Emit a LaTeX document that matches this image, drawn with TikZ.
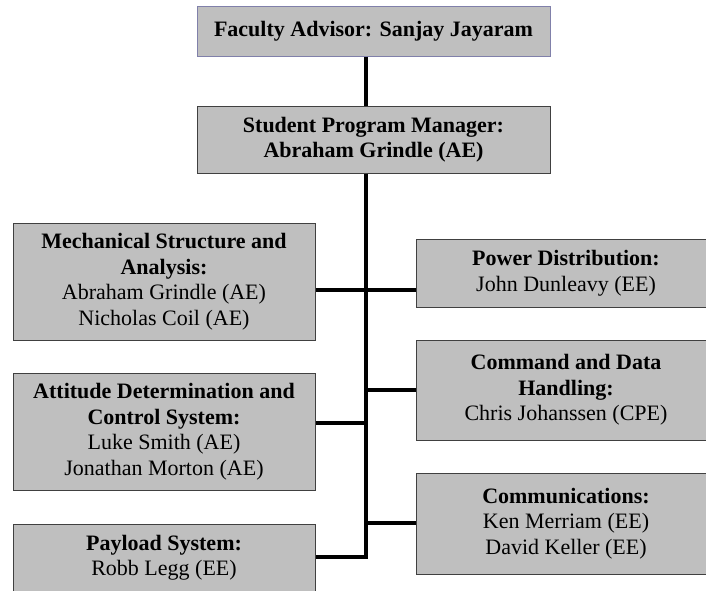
\documentclass[tikz,border=0pt]{standalone}
\usepackage{fontspec}
\setmainfont{Liberation Serif}
\definecolor{cadre}{RGB}{128,128,170}
\begin{document}
\begin{tikzpicture}[x=1pt,y=-1pt,
    boite/.style={draw=black!75,fill=black!25,line width=1pt,align=center,
      inner sep=0pt,font=\fontsize{22}{25.5}\selectfont},
    lien/.style={line width=3.5pt}] % ------ Organigramme ----------------
  \useasboundingbox (0,0) rectangle (706,590);
  \clip (0,0) rectangle (706,590);
  \node [boite,draw=cadre,minimum width=353pt,minimum height=50pt] (conseiller) at (373.5,31)
    {\textbf{Faculty Advisor: Sanjay Jayaram}};
  \node [boite,minimum width=353pt,minimum height=67pt] (chef) at (373.5,139.5)
    {\textbf{Student Program Manager:}\\\textbf{Abraham Grindle (AE)}};
  \node [boite,minimum width=302pt,minimum height=117pt] (meca) at (164,281.5)
    {\textbf{Mechanical Structure and}\\\textbf{Analysis:}\\Abraham Grindle (AE)\\Nicholas Coil (AE)};
  \node [boite,minimum width=302pt,minimum height=117pt] (attitude) at (164,431.5)
    {\textbf{Attitude Determination and}\\\textbf{Control System:}\\Luke Smith (AE)\\Jonathan Morton (AE)};
  \node [boite,minimum width=302pt,minimum height=67pt] (charge) at (164,557.5)
    {\textbf{Payload System:}\\Robb Legg (EE)};
  \node [boite,minimum width=300pt,minimum height=68pt] (puissance) at (566,273)
    {\textbf{Power Distribution:}\\John Dunleavy (EE)};
  \node [boite,minimum width=300pt,minimum height=100pt] (commande) at (566,390)
    {\textbf{Command and Data}\\\textbf{Handling:}\\Chris Johanssen (CPE)};
  \node [boite,minimum width=300pt,minimum height=101pt] (comm) at (566,523.5)
    {\textbf{Communications:}\\Ken Merriam (EE)\\David Keller (EE)};
  \coordinate (tronc) at (366,557);
  \coordinate (j1) at (366,290);
  \coordinate (j2) at (366,390);
  \coordinate (j3) at (366,423);
  \coordinate (j4) at (366,523);
  \draw [lien] (conseiller.south -| tronc) -- (chef.north -| tronc);
  \draw [lien] (chef.south -| tronc) -- (tronc) -- (charge.east |- tronc);
  \draw [lien] (meca.east |- j1) -- (puissance.west |- j1);
  \draw [lien] (j2) -- (commande.west |- j2);
  \draw [lien] (attitude.east |- j3) -- (j3);
  \draw [lien] (j4) -- (comm.west |- j4);
\end{tikzpicture}
\end{document}
